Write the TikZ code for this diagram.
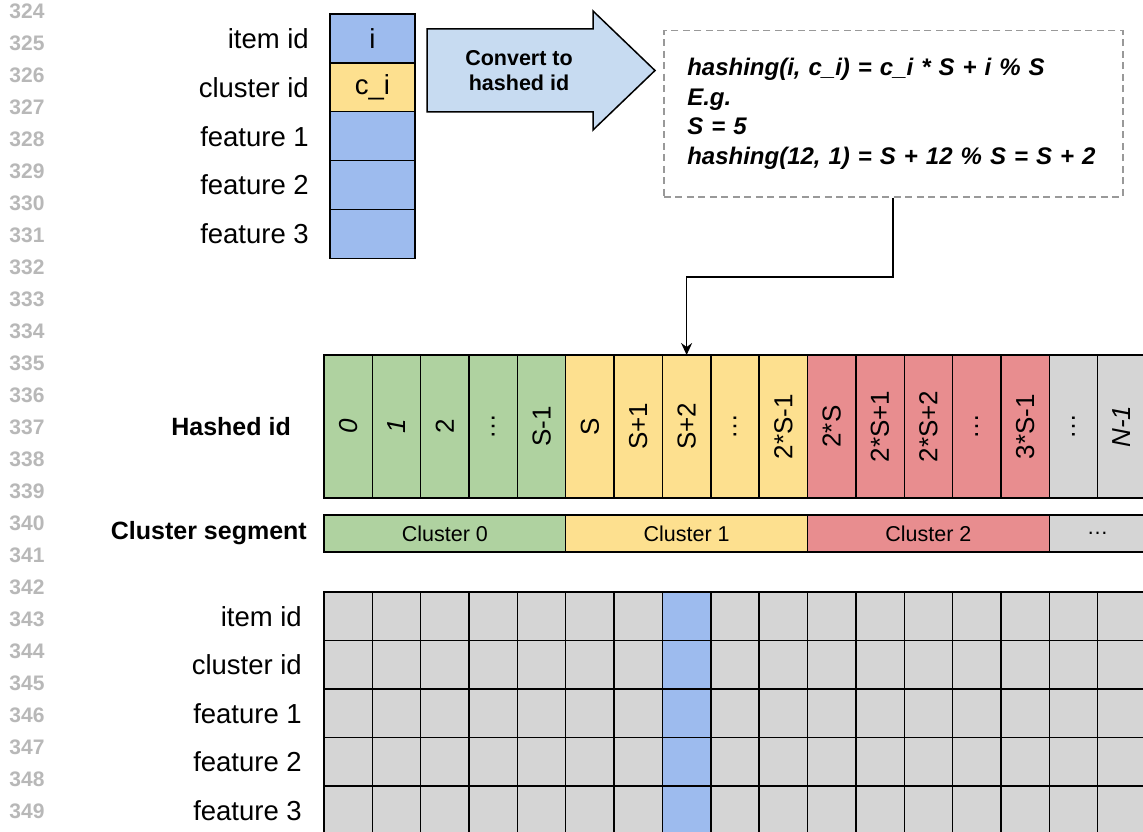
\documentclass[tikz,border=0pt]{standalone}
\usepackage{fontspec}
\setmainfont{Liberation Sans}
\usetikzlibrary{arrows.meta,calc}
\definecolor{cblue}{HTML}{9DBBEE}
\definecolor{cyellow}{HTML}{FDE08F}
\definecolor{cgreen}{HTML}{AFD2A0}
\definecolor{cred}{HTML}{E88D8F}
\definecolor{cgray}{HTML}{D5D5D5}
\definecolor{carrow}{HTML}{C7DBF1}
\definecolor{cdash}{HTML}{999999}
\definecolor{clinenum}{HTML}{B8B8B8}
\begin{document}
\begin{tikzpicture}[x=1pt,y=-1pt,
  cell/.style={draw=black,line width=1.4pt,inner sep=0pt,outer sep=0pt,anchor=north west},
  lab/.style={anchor=east,inner sep=0pt,font=\fontsize{27.5}{32}\selectfont},
  boldlab/.style={anchor=east,inner sep=0pt,font=\bfseries\fontsize{25}{30}\selectfont},
  linenum/.style={inner sep=0pt,text=clinenum,font=\bfseries\fontsize{21}{24}\selectfont},
  rotlab/.style={rotate=90,inner sep=0pt,font=\fontsize{26}{30}\selectfont},
  seglab/.style={inner sep=0pt,font=\fontsize{21.5}{25}\selectfont},
  conn/.style={line width=1.5pt,-{Stealth[length=12pt,width=11pt,inset=4pt]}}]
\useasboundingbox (0,0) rectangle (1143,832);
\clip (0,0) rectangle (1143,832);
\fill[white] (0,0) rectangle (1143,832);

% line numbers
\foreach \k in {0,...,25}{
  \pgfmathtruncatemacro\n{324+\k}
  \node[linenum] (ln\k) at (27,{11+32*\k}) {\n};
}

% top stack
\foreach \k/\col/\txt in {0/cblue/i,1/cyellow/c\_i,2/cblue/,3/cblue/,4/cblue/}{
  \node[cell,fill=\col,minimum width=85pt,minimum height=48.9pt,font=\fontsize{27.5}{32}\selectfont] (s\k) at (330,{14+\k*48.9}) {\txt};
}
\node[lab] (sl0) at ([xshift=-21pt]s0.west) {item id};
\node[lab] (sl1) at ([xshift=-21pt]s1.west) {cluster id};
\node[lab] (sl2) at ([xshift=-21pt]s2.west) {feature 1};
\node[lab] (sl3) at ([xshift=-21pt]s3.west) {feature 2};
\node[lab] (sl4) at ([xshift=-21pt]s4.west) {feature 3};

% big arrow
\draw[fill=carrow,line width=1.5pt,line join=miter] (427,29) -- (593,29) -- (593,11) -- (655,70.5) -- (593,130) -- (593,112) -- (427,112) -- cycle;
\node[align=center,inner sep=0pt,font=\bfseries\fontsize{21.5}{25}\selectfont] (conv) at (519,70.5) {Convert to\\hashed id};

% formula box
\node[draw=cdash,dash pattern=on 7pt off 4.5pt,line width=1.5pt,anchor=north west,
  minimum width=459pt,minimum height=166pt,inner sep=0pt,text width=412pt,align=left,
  font=\bfseries\itshape\fontsize{24}{29.5}\selectfont] (fbox) at (663,30)
  {hashing(i, c\_i) = c\_i * S + i \% S\\E.g.\\S = 5\\hashing(12, 1) = S + 12 \% S = S + 2};

% hashed id cells
\foreach \lbl/\col [count=\i from 0] in {\textit{0}/cgreen,\textit{1}/cgreen,2/cgreen,…/cgreen,S-1/cgreen,
  S/cyellow,S+1/cyellow,S+2/cyellow,…/cyellow,2*S-1/cyellow,
  2*S/cred,2*S+1/cred,2*S+2/cred,…/cred,3*S-1/cred,
  …/cgray,\textit{N-1}/cgray}{
  \node[cell,fill=\col,minimum width=48.35pt,minimum height=143pt] (h\i) at ({324+\i*48.35},355) {};
  \node[rotlab] (hl\i) at (h\i.center) {\lbl};
}
\node[boldlab] (hashlab) at ([xshift=-33pt]h0.west) {Hashed id};

% cluster segments
\foreach \k/\col/\w/\txt in {0/cgreen/241.75/Cluster 0,1/cyellow/241.75/Cluster 1,2/cred/241.75/Cluster 2,3/cgray/96.7/…}{
  \node[cell,fill=\col,minimum width=\w pt,minimum height=37pt] (seg\k) at ({324+\k*241.75},515) {};
  \node[seglab] (segl\k) at (seg\k.center) {\txt};
}
\node[boldlab] (seglab) at ([xshift=-17pt]seg0.west) {Cluster segment};

% bottom grid
\foreach \r in {0,...,4}{
  \foreach \c in {0,...,16}{
    \ifnum\c=7 \def\fc{cblue}\else\def\fc{cgray}\fi
    \node[cell,fill=\fc,minimum width=48.35pt,minimum height=48.5pt] (g\r-\c) at ({324+\c*48.35},{592+\r*48.5}) {};
  }
}
\node[lab] (gl0) at ([xshift=-22pt]g0-0.west) {item id};
\node[lab] (gl1) at ([xshift=-22pt]g1-0.west) {cluster id};
\node[lab] (gl2) at ([xshift=-22pt]g2-0.west) {feature 1};
\node[lab] (gl3) at ([xshift=-22pt]g3-0.west) {feature 2};
\node[lab] (gl4) at ([xshift=-22pt]g4-0.west) {feature 3};

% connector
\coordinate (bend) at (893,277);
\draw[conn] (fbox.south -| bend) -- (bend) -| (h7.north);
\end{tikzpicture}
\end{document}
